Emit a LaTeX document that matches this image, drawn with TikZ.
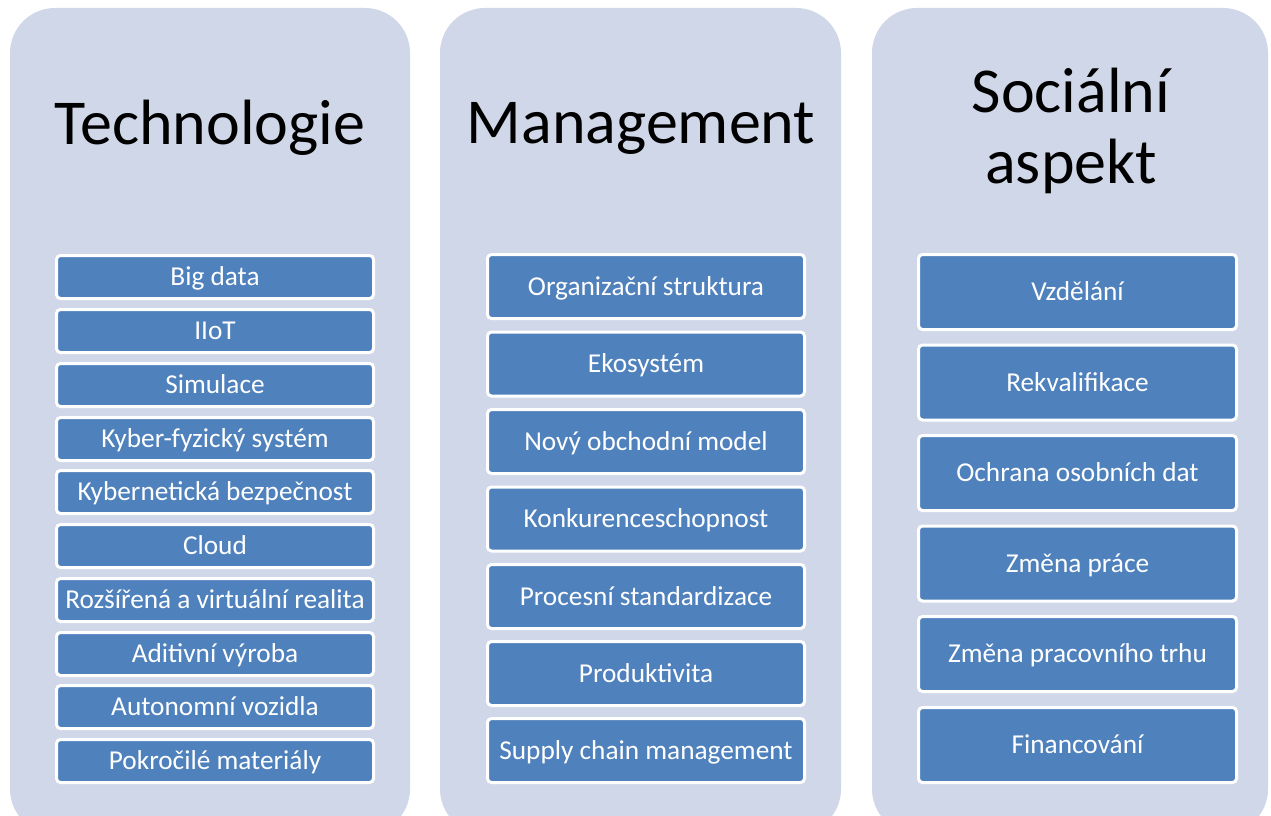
\documentclass[tikz,border=0pt]{standalone}
\usepackage{fontspec}
\setmainfont{Carlito}
\definecolor{panelbg}{RGB}{207,215,232}
\definecolor{boxblue}{RGB}{79,129,189}
\tikzset{
  panel/.style={fill=panelbg, draw=none, rounded corners=45pt},
  title/.style={text=black, font=\fontsize{64}{71}\selectfont, align=center, inner sep=0pt},
  item/.style={fill=boxblue, draw=white, line width=3pt, rounded corners=4pt, text=white,
    font=\fontsize{27.3}{31}\selectfont, inner sep=0pt, anchor=center,
    text height=17.6pt, text depth=0pt},
  techbox/.style={item, minimum width=317pt, minimum height=43pt},
  mgmtbox/.style={item, minimum width=317pt, minimum height=64pt},
  socbox/.style={item, minimum width=318pt, minimum height=75pt}
}
\begin{document}
\begin{tikzpicture}[x=1pt,y=-1pt]
\useasboundingbox (0,0) rectangle (1271,816);
\fill[white] (0,0) rectangle (1271,816);
\begin{scope}
\clip (0,0) rectangle (1271,816);
\path[panel] (10,8) rectangle (410,834);
\path[panel] (440,8) rectangle (841,834);
\path[panel] (872,8) rectangle (1268,834);
\end{scope}
\node[title] (t1) at (210,128) {Technologie};
\node[title] (t2) at (641,128) {Management};
\node[title] (t3) at (1071,131) {Sociální\\aspekt};

\node[techbox] (a1) at (215,277) {Big data};
\node[techbox] (a2) at (215,331) {IIoT};
\node[techbox] (a3) at (215,385) {Simulace};
\node[techbox] (a4) at (215,439) {Kyber-fyzický systém};
\node[techbox] (a5) at (215,492) {Kybernetická bezpečnost};
\node[techbox] (a6) at (215,546) {Cloud};
\node[techbox] (a7) at (215,600) {Rozšířená a virtuální realita};
\node[techbox] (a8) at (215,654) {Aditivní výroba};
\node[techbox] (a9) at (215,707) {Autonomní vozidla};
\node[techbox] (a10) at (215,761) {Pokročilé materiály};

\node[mgmtbox] (b1) at (646,286.5) {Organizační struktura};
\node[mgmtbox] (b2) at (646,364) {Ekosystém};
\node[mgmtbox] (b3) at (646,441.5) {Nový obchodní model};
\node[mgmtbox] (b4) at (646,519) {Konkurenceschopnost};
\node[mgmtbox] (b5) at (646,596.5) {Procesní standardizace};
\node[mgmtbox] (b6) at (646,673.5) {Produktivita};
\node[mgmtbox] (b7) at (646,750.5) {Supply chain management};

\node[socbox] (c1) at (1077.5,292) {Vzdělání};
\node[socbox] (c2) at (1077.5,382.5) {Rekvalifikace};
\node[socbox] (c3) at (1077.5,473) {Ochrana osobních dat};
\node[socbox] (c4) at (1077.5,563.5) {Změna práce};
\node[socbox] (c5) at (1077.5,654) {Změna pracovního trhu};
\node[socbox] (c6) at (1077.5,745) {Financování};
\end{tikzpicture}
\end{document}
